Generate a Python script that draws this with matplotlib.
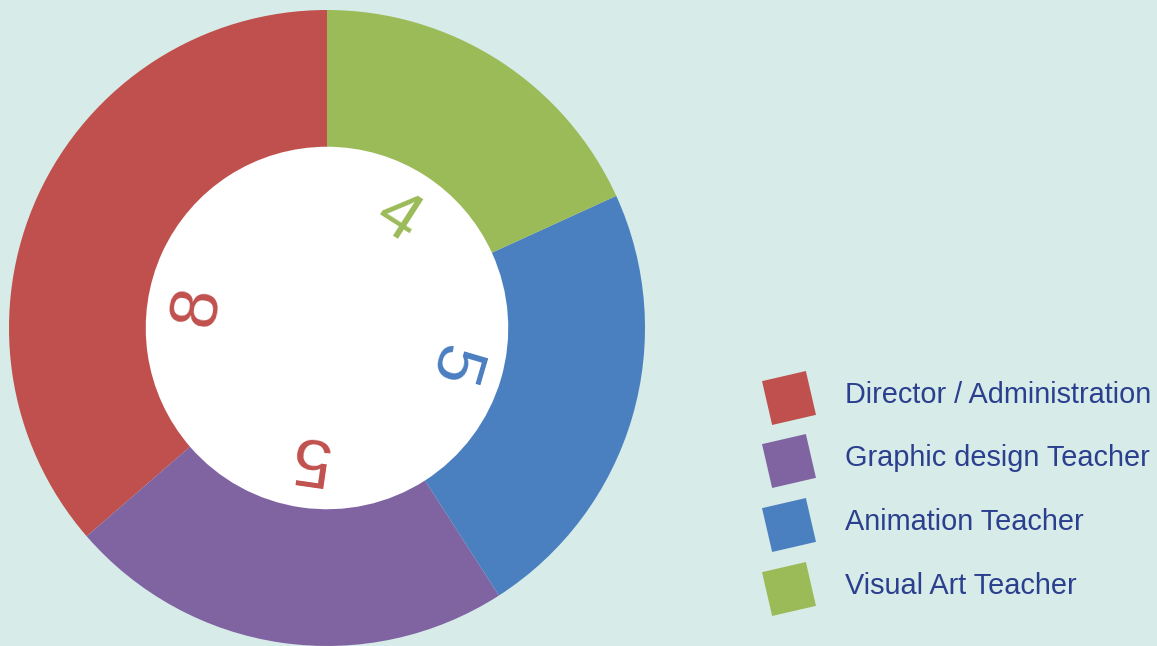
import numpy as np
import matplotlib.pyplot as plt
from matplotlib.patches import Rectangle
import matplotlib.transforms as mtransforms

# Data
categories = ["Director / Administration", "Graphic design Teacher",
              "Animation Teacher", "Visual Art Teacher"]
values = [8, 5, 5, 4]
colors = ["#C0504D", "#8064A2", "#4A7FC0", "#9BBB59"]
label_colors = ["#C0504D", "#C0504D", "#4A7FC0", "#9BBB59"]
label_shift = [15, 0, 0, 0]  # degrees, small nudge of the value labels

BG = "#D7EBE8"
TEXT = "#2B3F8F"
W, H = 1157, 646

plt.rcParams['font.family'] = ['Liberation Sans', 'DejaVu Sans']

fig = plt.figure(figsize=(W / 100, H / 100), dpi=100, facecolor=BG)

# donut
cx, cy, r = 327, H - 328, 318
ax = fig.add_axes([(cx - r) / W, (cy - r) / H, 2 * r / W, 2 * r / H])
ax.set_facecolor(BG)
wedges, _ = ax.pie(values, colors=colors, startangle=90, counterclock=True,
                   radius=1, wedgeprops=dict(width=0.43, linewidth=0))
ax.add_patch(plt.Circle((0, 0), 0.57, color="white", zorder=0))
ax.set_xlim(-1, 1)
ax.set_ylim(-1, 1)
ax.set_aspect("equal")
ax.axis("off")

# value labels inside the hole, rotated outward
for w, v, c, s in zip(wedges, values, label_colors, label_shift):
    mid = (w.theta1 + w.theta2) / 2 + s
    rr = 0.41
    x = rr * np.cos(np.radians(mid))
    y = rr * np.sin(np.radians(mid))
    ax.text(x, y, str(v), color=c, fontsize=50, ha="center", va="center",
            rotation=mid - 90, rotation_mode="anchor")

# legend with tilted squares, in pixel coords
lax = fig.add_axes([0, 0, 1, 1])
lax.set_xlim(0, W)
lax.set_ylim(0, H)
lax.axis("off")
lax.patch.set_alpha(0)
row_y = [H - 398, H - 461, H - 525, H - 589]
for name, c, yy in zip(categories, colors, row_y):
    sq = 45
    rect = Rectangle((789 - sq / 2, yy - sq / 2), sq, sq, facecolor=c, linewidth=0)
    t = mtransforms.Affine2D().rotate_deg_around(789, yy, 13) + lax.transData
    rect.set_transform(t)
    lax.add_patch(rect)
    lax.text(845, yy + 3, name, color=TEXT, fontsize=20.8, ha="left", va="center")

fig.savefig("out.png", dpi=100, facecolor=BG)
